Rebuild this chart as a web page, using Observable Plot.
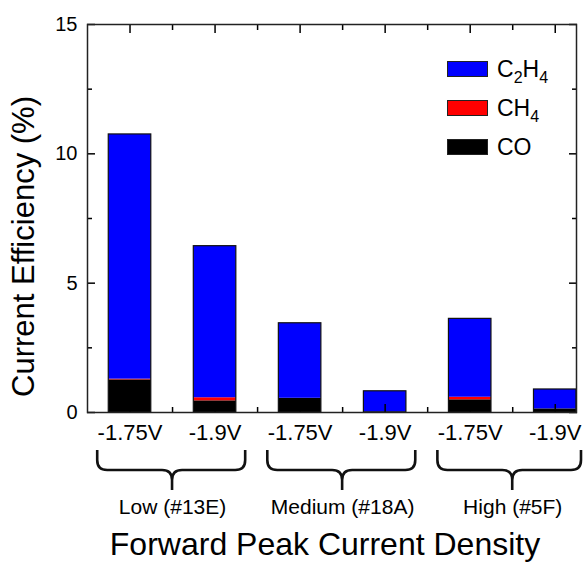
<!DOCTYPE html>
<html>
<head>
<meta charset="utf-8">
<script src="https://cdn.jsdelivr.net/npm/d3@7"></script>
<script src="https://cdn.jsdelivr.net/npm/@observablehq/plot@0.6"></script>
<style>
  html, body { margin: 0; padding: 0; background: #fff; }
  #wrap { position: relative; width: 584px; height: 563px; font-family: "Liberation Sans", Arial, sans-serif; }
  .lg-box { position: absolute; width: 41px; height: 16px; box-sizing: border-box; border: 1px solid #222; }
  .lg-txt { position: absolute; font-size: 23px; line-height: 1; color: #000; white-space: nowrap; }
  .lg-txt sub { font-size: 16px; vertical-align: -6px; line-height: 0; }
</style>
</head>
<body>
<div id="wrap"></div>
<script>
// ---- data ----
const barLabels = ["-1.75V", "-1.9V", "-1.75V", "-1.9V", "-1.75V", "-1.9V"];
const groupLabels = ["Low (#13E)", "Medium (#18A)", "High (#5F)"];
const seriesNames = ["CO", "CH4", "C2H4"];
const seriesColors = ["#000000", "#ff0000", "#0000ff"];
const coValues   = [1.26, 0.45, 0.55, 0.02, 0.49, 0.14];
const ch4Values  = [0.03, 0.12, 0.00, 0.00, 0.10, 0.00];
const c2h4Values = [9.46, 5.86, 2.90, 0.80, 3.03, 0.75];
const yTicks = [0, 5, 10, 15];
const yMinorTicks = [2.5, 7.5, 12.5];
const legendOrder = ["C2H4", "CH4", "CO"];
const legendHTML = {C2H4: "C<sub>2</sub>H<sub>4</sub>", CH4: "CH<sub>4</sub>", CO: "CO"};
const yTitle = "Current Efficiency (%)";
const xTitle = "Forward Peak Current Density";

// ---- derived tables ----
const seriesValues = [coValues, ch4Values, c2h4Values];
const positions = barLabels.map((_, i) => i + 1);
const minorX = positions.slice(0, -1).map(p => p + 0.5);
const segments = [];
const totals = [];
positions.forEach((p, i) => {
  let base = 0;
  seriesNames.forEach((s, k) => {
    const v = seriesValues[k][i];
    segments.push({pos: p, gas: s, y1: base, y2: base + v});
    base += v;
  });
  totals.push({pos: p, total: base});
});
const groups = groupLabels.map((g, j) => ({label: g, mid: 2 * j + 1.5}));
const halfBar = 0.25;

// brace render function
function braces(index, scales, values, dimensions) {
  const x = scales.x;
  const yb = dimensions.height - dimensions.marginBottom;
  const g = d3.create("svg:g").attr("fill", "none").attr("stroke", "#111").attr("stroke-width", 2.6);
  const yTop = yb + 38, yMid = yb + 58, yTip = yb + 78, r = 10;
  for (const gr of groups) {
    const xm = x(gr.mid);
    const x0 = x(gr.mid - 0.88);
    const x1 = Math.min(x(gr.mid + 0.86), dimensions.width - 3);
    const d = `M${x0},${yTop} L${x0},${yMid - r} Q${x0},${yMid} ${x0 + r},${yMid} L${xm - r},${yMid} Q${xm},${yMid} ${xm},${yMid + r} L${xm},${yTip}` +
              ` M${xm},${yMid + r} Q${xm},${yMid} ${xm + r},${yMid} L${x1 - r},${yMid} Q${x1},${yMid} ${x1},${yMid - r} L${x1},${yTop}`;
    g.append("path").attr("d", d);
  }
  return g.node();
}

const fontFam = "Liberation Sans, Arial, sans-serif";
const tickOpts = {tickFormat: () => "", strokeWidth: 1.5, label: null};
const chart = Plot.plot({
  width: 584,
  height: 563,
  marginLeft: 87,
  marginRight: 8,
  marginTop: 24,
  marginBottom: 151,
  style: {fontFamily: fontFam, color: "#000", background: "#fff", overflow: "visible"},
  x: {type: "linear", domain: [0.5, 6.25]},
  y: {domain: [0, 15]},
  color: {domain: seriesNames, range: seriesColors},
  marks: [
    Plot.rect(segments, {x1: d => d.pos - halfBar, x2: d => d.pos + halfBar, y1: "y1", y2: "y2", fill: "gas"}),
    Plot.rect(totals, {x1: d => d.pos - halfBar, x2: d => d.pos + halfBar, y1: 0, y2: "total", fill: "none", stroke: "#111", strokeWidth: 1.2}),
    // inward ticks
    Plot.axisX({anchor: "bottom", ticks: positions, tickSize: 8, dy: -8, ...tickOpts}),
    Plot.axisX({anchor: "bottom", ticks: minorX, tickSize: 5, dy: -5, ...tickOpts}),
    Plot.axisX({anchor: "top", ticks: positions, tickSize: 8, dy: 8, ...tickOpts}),
    Plot.axisX({anchor: "top", ticks: minorX, tickSize: 5, dy: 5, ...tickOpts}),
    Plot.axisY({anchor: "left", ticks: yTicks, tickSize: 8, dx: 8, ...tickOpts}),
    Plot.axisY({anchor: "left", ticks: yMinorTicks, tickSize: 5, dx: 5, ...tickOpts}),
    Plot.axisY({anchor: "right", ticks: yTicks, tickSize: 8, dx: -8, ...tickOpts}),
    Plot.axisY({anchor: "right", ticks: yMinorTicks, tickSize: 5, dx: -5, ...tickOpts}),
    // labels
    Plot.axisX({anchor: "bottom", ticks: positions, tickSize: 0, tickPadding: 12, tickFormat: d => barLabels[d - 1], fontSize: 22, label: null}),
    Plot.axisY({anchor: "left", ticks: yTicks, tickSize: 0, tickPadding: 10, fontSize: 20, label: null}),
    Plot.frame({stroke: "#222", strokeWidth: 1.5}),
    braces,
    Plot.text(groups, {x: "mid", text: "label", frameAnchor: "bottom", lineAnchor: "middle", dy: 95, fontSize: 21}),
    Plot.text([xTitle], {frameAnchor: "bottom", lineAnchor: "middle", textAnchor: "middle", dx: -7, dy: 132, fontSize: 32}),
    Plot.text([yTitle], {frameAnchor: "left", textAnchor: "middle", lineAnchor: "middle", dx: -63, dy: 28, rotate: -90, fontSize: 31})
  ]
});
const wrap = document.getElementById("wrap");
wrap.appendChild(chart);

// legend (HTML overlay)
legendOrder.forEach((name, i) => {
  const top = 61 + i * 39;
  const box = document.createElement("div");
  box.className = "lg-box";
  box.style.left = "447px";
  box.style.top = top + "px";
  box.style.background = seriesColors[seriesNames.indexOf(name)];
  wrap.appendChild(box);
  const t = document.createElement("div");
  t.className = "lg-txt";
  t.style.left = "497px";
  t.style.top = (top - 3) + "px";
  t.innerHTML = legendHTML[name];
  wrap.appendChild(t);
});
</script>
</body>
</html>
